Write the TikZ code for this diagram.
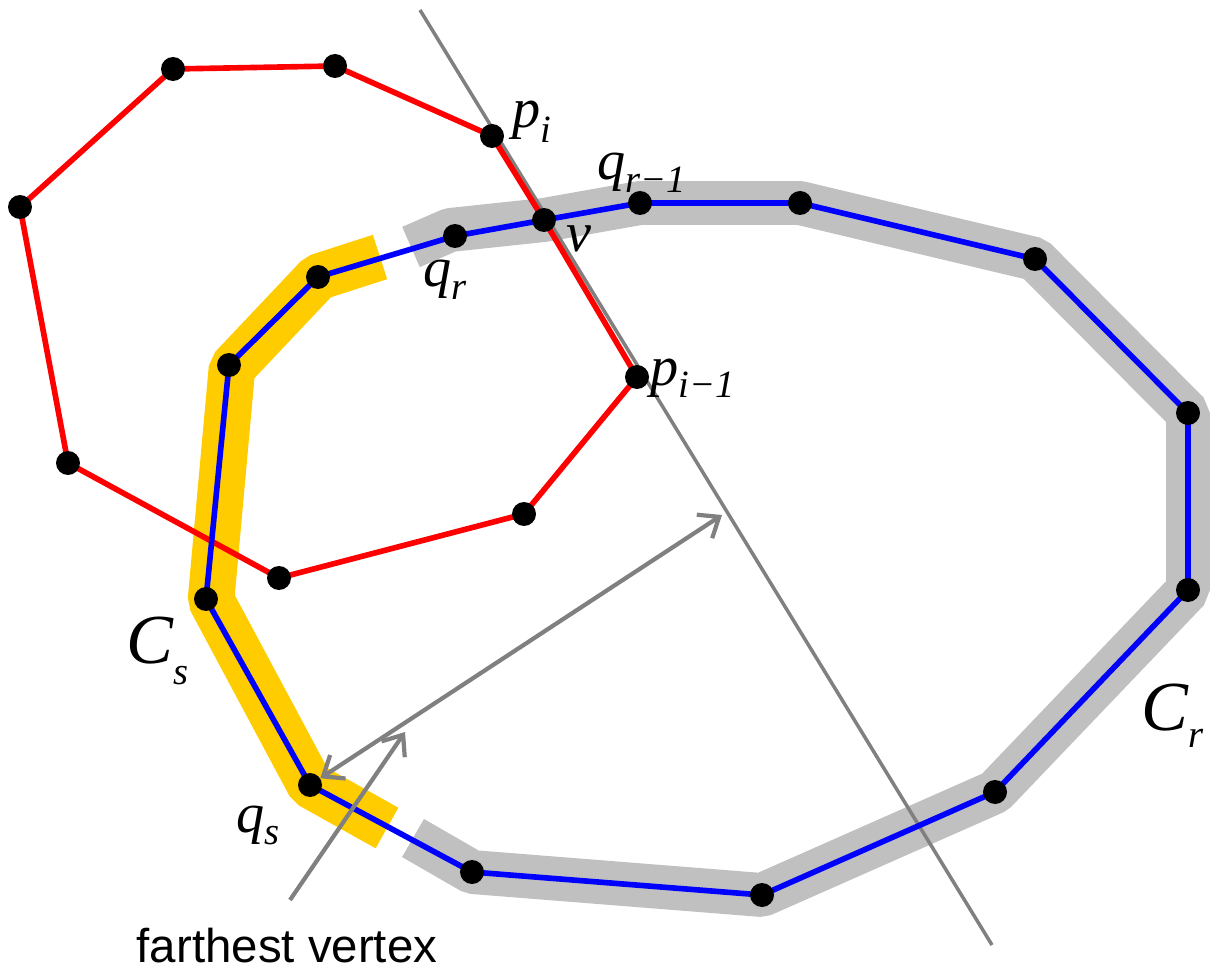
\documentclass[tikz,border=0pt]{standalone}
\usepackage{fontspec}
\setmainfont{Liberation Serif}
\newfontfamily\labsans{Liberation Sans}
\usetikzlibrary{arrows.meta, backgrounds}

\definecolor{bandgray}{RGB}{192,192,192}
\definecolor{bandyel}{RGB}{255,204,0}

% label with subscript
\newcommand{\sublbl}[3][7pt]{#2\raisebox{-#1}{\fontsize{22}{22}\selectfont #3}}

\begin{document}
\begin{tikzpicture}[
  x=0.02cm, y=-0.02cm,
  barb/.tip={Straight Barb[length=10pt,width=16pt]},
  dot/.style={circle, fill=black, minimum size=0.48cm, inner sep=0pt},
  lbl/.style={font=\fontsize{32}{32}\selectfont\itshape, inner sep=0pt, anchor=base west},
  biglbl/.style={font=\fontsize{40}{40}\selectfont\itshape, inner sep=0pt, anchor=base west},
  band/.style={line width=25pt, line join=bevel},
  redl/.style={red, line width=3.2pt, line join=round},
  bluel/.style={blue, line width=3.2pt, line join=round},
  cut/.style={gray, line width=2pt},
  pointer/.style={gray, line width=2.4pt, -barb}
]
\useasboundingbox (0,0) rectangle (1210,976);

%% red polygon
\node[dot] (pi)   at (492,136) {};
\node[dot] (r1)   at (335,66)  {};
\node[dot] (r2)   at (173,69)  {};
\node[dot] (r3)   at (20,207)  {};
\node[dot] (r4)   at (68,463)  {};
\node[dot] (r5)   at (279,578) {};
\node[dot] (r6)   at (524,514) {};
\node[dot] (pim1) at (637,377) {};
\node[dot] (v)    at (544,220) {};

%% blue polygon
\node[dot] (qr)  at (455,236)  {};
\node[dot] (qr1) at (640,203)  {};
\node[dot] (b1)  at (800,203)  {};
\node[dot] (b2)  at (1035,259) {};
\node[dot] (b3)  at (1188,413) {};
\node[dot] (b4)  at (1188,590) {};
\node[dot] (b5)  at (995,792)  {};
\node[dot] (b6)  at (762,895)  {};
\node[dot] (b7)  at (472,872)  {};
\node[dot] (qs)  at (310,785)  {};
\node[dot] (b8)  at (206,599)  {};
\node[dot] (b9)  at (229,365)  {};
\node[dot] (b10) at (318,277)  {};

%% free ends
\coordinate (grayA) at (411,247);
\coordinate (grayB) at (413,838);
\coordinate (yelA)  at (380,257);
\coordinate (yelB)  at (387,828);
\coordinate (cutA)  at (420,10);
\coordinate (cutB)  at (992,945);
\coordinate (farA)  at (722,515);
\coordinate (fromF) at (290,900);
\coordinate (toF)   at (405,732);

\begin{scope}[on background layer]
%% chains
\draw[band, bandgray] (grayA) -- (450,230) -- (v.center) -- (qr1.center)
  -- (b1.center) -- (b2.center) -- (b3.center) -- (b4.center) -- (b5.center)
  -- (b6.center) -- (b7.center) -- (grayB);
\draw[band, bandyel, line width=26.5pt] (yelA) -- (b10.center) -- (232,368)
  -- (211,600) -- (qs.center) -- (yelB);

\draw[cut] (cutA) -- (cutB);

\draw[redl] (pi.center) -- (r1.center) -- (r2.center) -- (r3.center)
  -- (r4.center) -- (r5.center) -- (r6.center) -- (pim1.center)
  -- (v.center) -- cycle;

\draw[bluel] (qr.center) -- (v.center) -- (qr1.center) -- (b1.center)
  -- (b2.center) -- (b3.center) -- (b4.center) -- (b5.center) -- (b6.center)
  -- (b7.center) -- (qs.center) -- (b8.center) -- (b9.center) -- (b10.center)
  -- cycle;

%% arrows
\draw[pointer, barb-barb] (qs) -- (farA);
\draw[pointer] (fromF) -- (toF);
\end{scope}

%% labels
\node[lbl] (lpi)   at (512,128) {\sublbl[8pt]{p}{i}};
\node[lbl] (lqr1)  at (597,180) {\sublbl{q}{r−1}};
\node[lbl] (lv)    at (566,252) {v};
\node[lbl] (lqr)   at (423,287) {\sublbl{q}{r}};
\node[lbl] (lpim1) at (650,385) {\sublbl{p}{i−1}};
\node[lbl] (lqs)   at (236,832) {\sublbl{q}{s}};
\node[biglbl] (lcs) at (126,663) {\sublbl[12pt]{C}{s}};
\node[biglbl] (lcr) at (1141,730) {\sublbl[10pt]{C}{r}};
\node[font=\labsans\fontsize{27}{27}\selectfont, inner sep=0pt, anchor=base]
  (lfar) at (287,962) {farthest vertex};
\end{tikzpicture}
\end{document}
